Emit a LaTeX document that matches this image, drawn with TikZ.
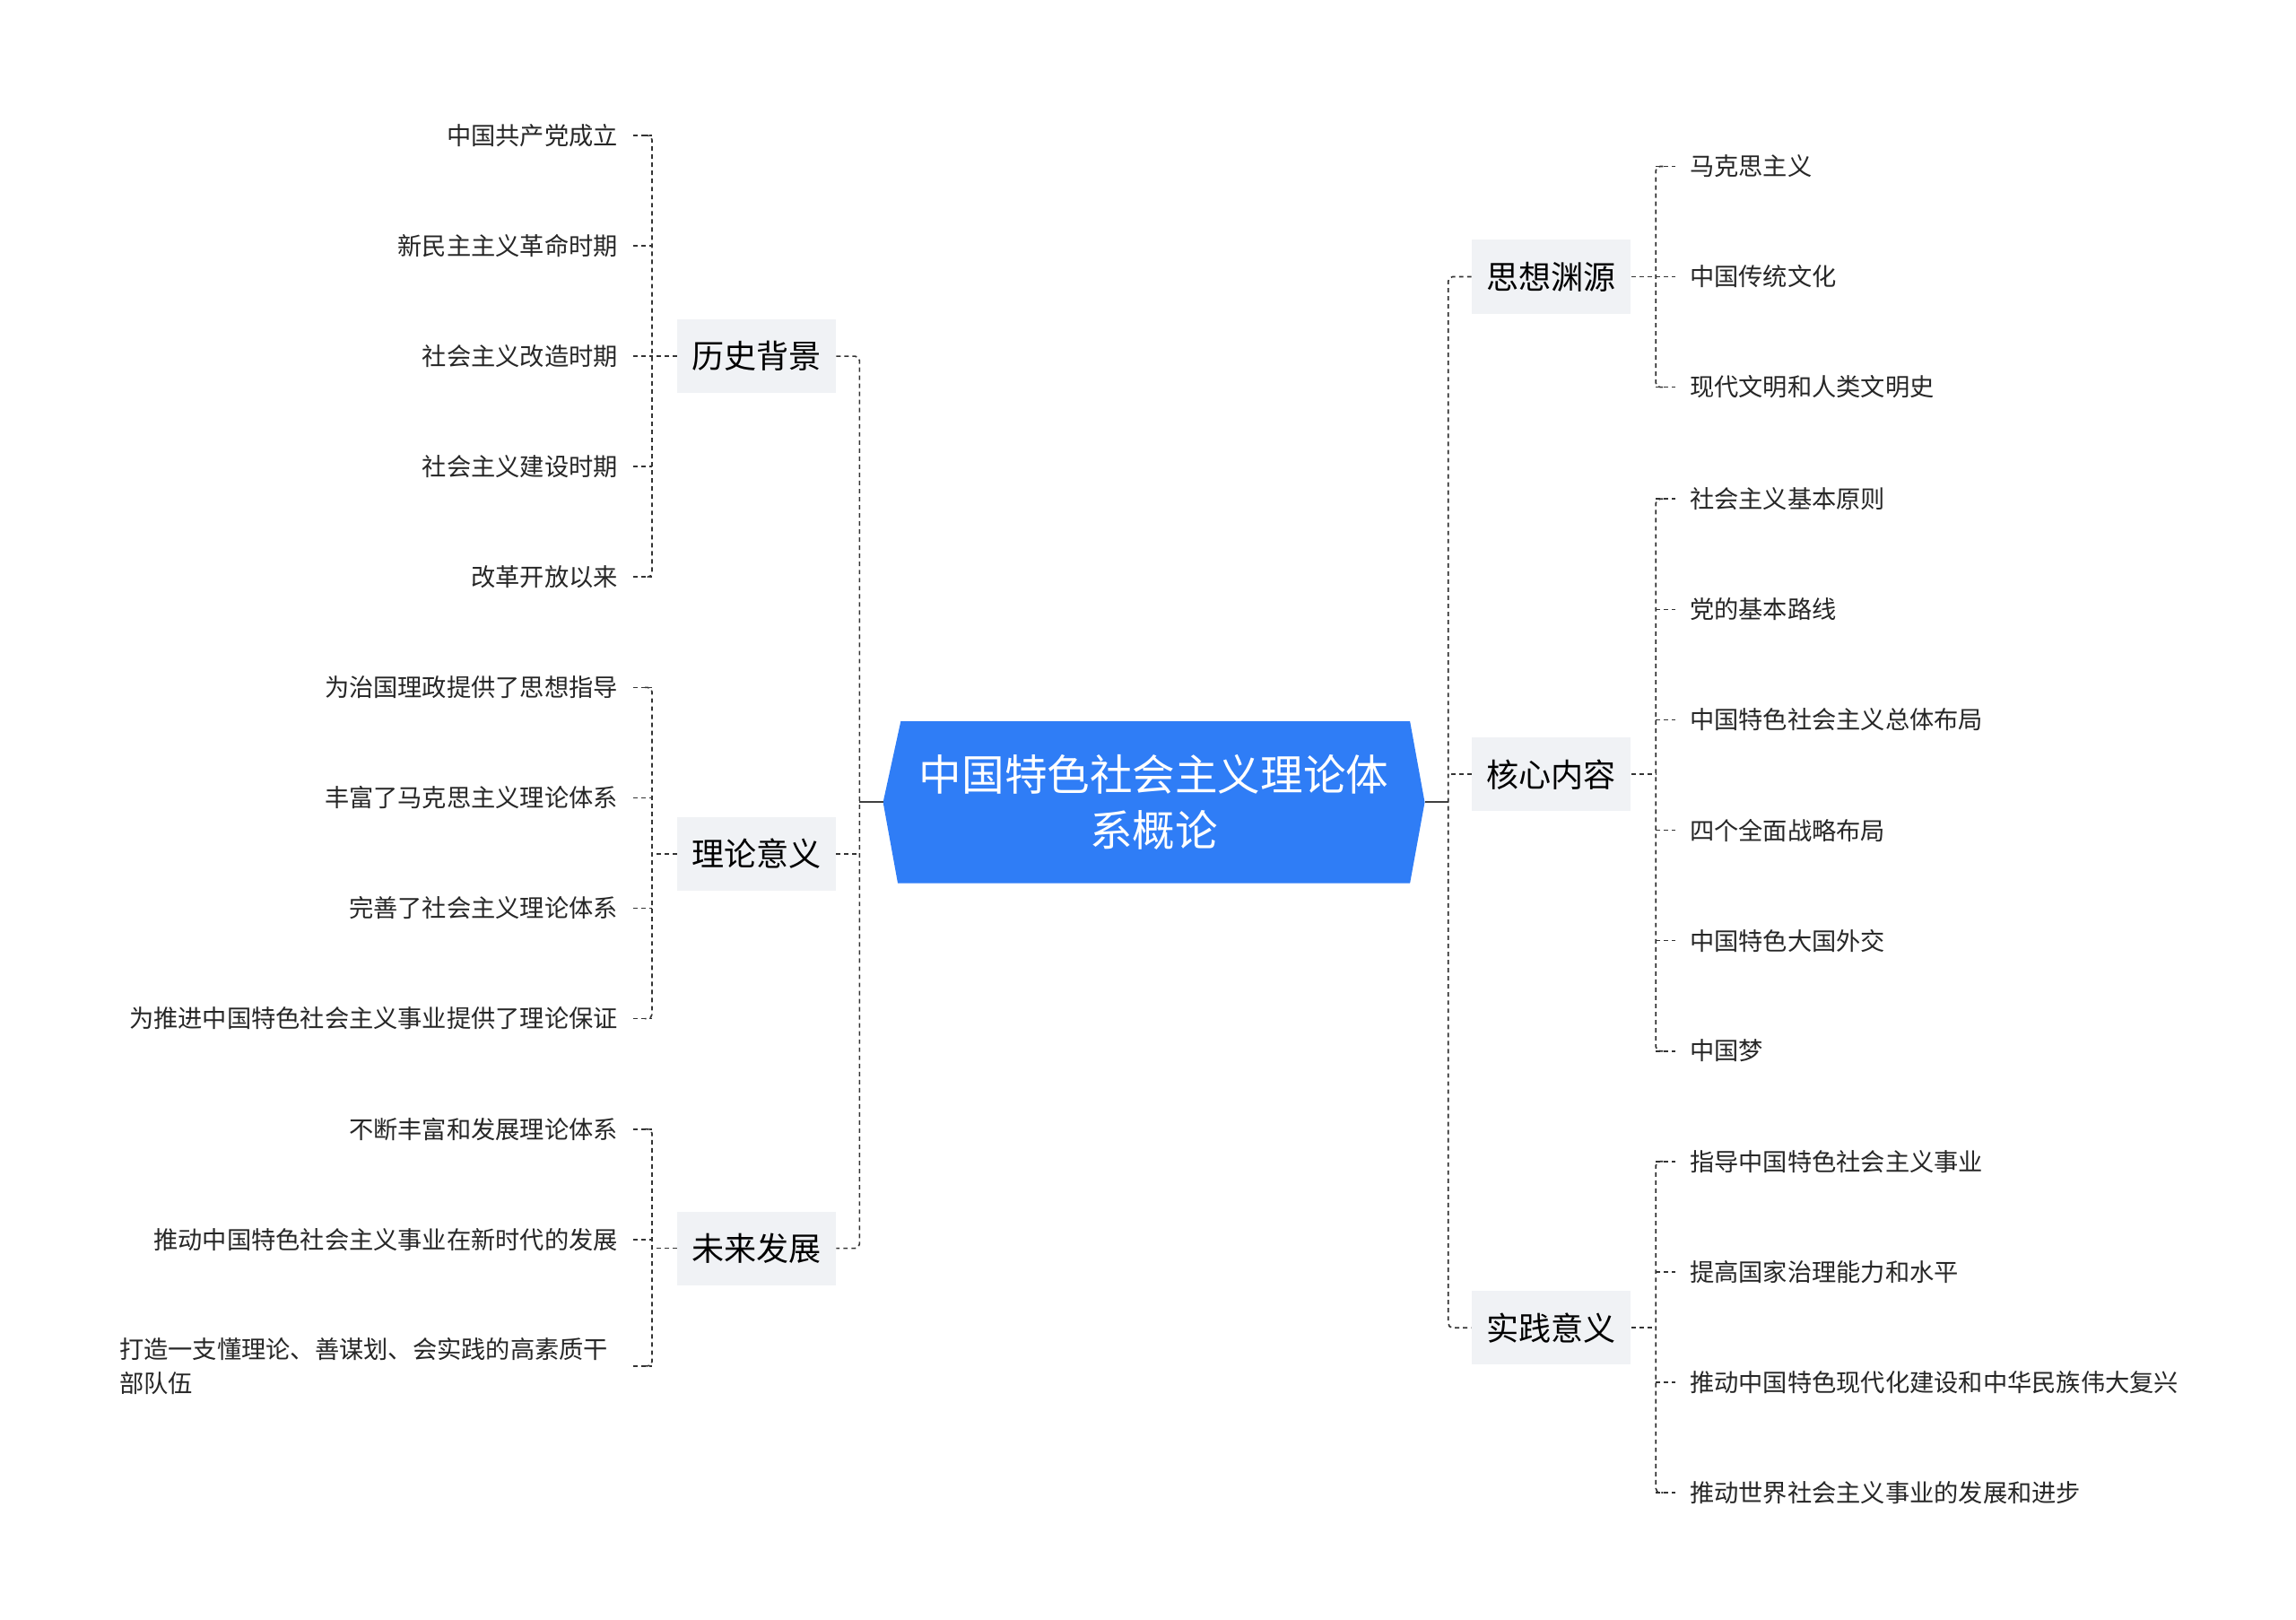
\documentclass[tikz,border=0pt]{standalone}
\usepackage{fontspec}
\setmainfont{Noto Sans CJK SC}
\begin{document}
\begin{tikzpicture}[x=1pt,y=-1pt,
  conn/.style={draw=black!80,dashed,dash pattern=on 3pt off 2.5pt,line width=1pt},
  leaf/.style={font=\fontsize{16.6}{20}\selectfont,text=black!85,inner sep=0pt},
  branch/.style={fill={rgb,255:red,240;green,242;blue,245},font=\fontsize{22}{25}\selectfont,minimum width=108pt,minimum height=50pt,inner sep=0pt}]
\useasboundingbox (0,0) rectangle (1560,1100);
% center
\fill[fill={rgb,255:red,47;green,125;blue,246}] (612,490)--(958,490)--(968,545)--(958,600)--(610,600)--(600,545)--cycle;
\node[text=white,font=\fontsize{29}{38}\selectfont,align=center] (c) at (784,545) {中国特色社会主义理论体\\系概论};
\coordinate (cl) at (600,545); \coordinate (cr) at (968,545);
% branches
\node[branch] (b1) at (514,242) {历史背景};
\node[branch] (b2) at (514,580) {理论意义};
\node[branch] (b3) at (514,848) {未来发展};
\node[branch] (b4) at (1054,188) {思想渊源};
\node[branch] (b5) at (1054,526) {核心内容};
\node[branch] (b6) at (1054,902) {实践意义};
% trunk lines
\draw[black!75,line width=1.2pt] (cl) -- (584,545);
\draw[black!75,line width=1.2pt] (cr) -- (984,545);
\draw[conn,rounded corners=3pt] (b1.east) -- (584,242) -- (584,848) -- (b3.east);
\draw[conn] (b2.east) -- (584,580);
\draw[conn,rounded corners=3pt] (b4.west) -- (984,188) -- (984,902) -- (b6.west);
\draw[conn] (b5.west) -- (984,526);
% left leaves
\foreach \t/\y [count=\i] in {中国共产党成立/92,新民主主义革命时期/167,社会主义改造时期/242,社会主义建设时期/317,改革开放以来/392}
  {\node[leaf,anchor=east] (l1\i) at (420,\y) {\t}; \draw[conn] (430,\y) -- (443,\y);}
\draw[conn,rounded corners=3pt] (438,92) -- (443,92) -- (443,392) -- (438,392);
\draw[conn] (b1.west) -- (443,242);
\foreach \t/\y [count=\i] in {为治国理政提供了思想指导/467,丰富了马克思主义理论体系/542,完善了社会主义理论体系/617,为推进中国特色社会主义事业提供了理论保证/692}
  {\node[leaf,anchor=east] (l2\i) at (420,\y) {\t}; \draw[conn] (430,\y) -- (443,\y);}
\draw[conn,rounded corners=3pt] (438,467) -- (443,467) -- (443,692) -- (438,692);
\draw[conn] (b2.west) -- (443,580);
\node[leaf,anchor=east] (l31) at (420,767) {不断丰富和发展理论体系};
\node[leaf,anchor=east] (l32) at (420,842) {推动中国特色社会主义事业在新时代的发展};
\node[leaf,anchor=west,align=left,font=\fontsize{16.6}{23}\selectfont] (l33) at (81,928) {打造一支懂理论、善谋划、会实践的高素质干\\部队伍};
\foreach \y in {767,842,928} \draw[conn] (430,\y) -- (443,\y);
\draw[conn,rounded corners=3pt] (438,767) -- (443,767) -- (443,928) -- (438,928);
\draw[conn] (b3.west) -- (443,848);
% right leaves
\foreach \t/\y [count=\i] in {马克思主义/113,中国传统文化/188,现代文明和人类文明史/263}
  {\node[leaf,anchor=west] (r1\i) at (1148,\y) {\t}; \draw[conn] (1125,\y) -- (1138,\y);}
\draw[conn,rounded corners=3pt] (1130,113) -- (1125,113) -- (1125,263) -- (1130,263);
\draw[conn] (b4.east) -- (1125,188);
\foreach \t/\y [count=\i] in {社会主义基本原则/339,党的基本路线/414,中国特色社会主义总体布局/489,四个全面战略布局/564,中国特色大国外交/639,中国梦/714}
  {\node[leaf,anchor=west] (r2\i) at (1148,\y) {\t}; \draw[conn] (1125,\y) -- (1138,\y);}
\draw[conn,rounded corners=3pt] (1130,339) -- (1125,339) -- (1125,714) -- (1130,714);
\draw[conn] (b5.east) -- (1125,526);
\foreach \t/\y [count=\i] in {指导中国特色社会主义事业/789,提高国家治理能力和水平/864,推动中国特色现代化建设和中华民族伟大复兴/939,推动世界社会主义事业的发展和进步/1014}
  {\node[leaf,anchor=west] (r3\i) at (1148,\y) {\t}; \draw[conn] (1125,\y) -- (1138,\y);}
\draw[conn,rounded corners=3pt] (1130,789) -- (1125,789) -- (1125,1014) -- (1130,1014);
\draw[conn] (b6.east) -- (1125,902);
\end{tikzpicture}
\end{document}
